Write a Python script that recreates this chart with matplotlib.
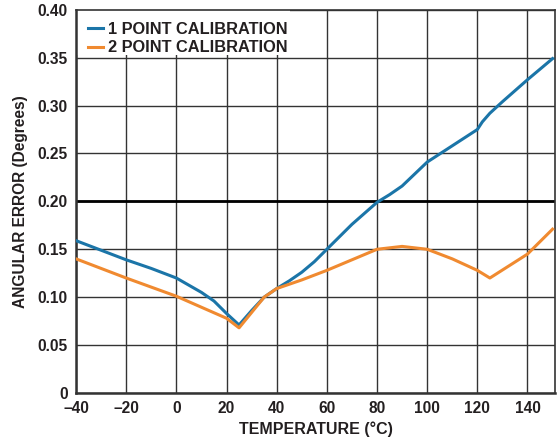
import matplotlib.pyplot as plt
from matplotlib.patches import Rectangle
import numpy as np

plt.rcParams['font.family'] = ['Liberation Sans', 'DejaVu Sans']
plt.rcParams['font.weight'] = 'bold'
plt.rcParams['axes.labelweight'] = 'bold'

# readings
temp_1pt = [-40, -30, -20, -10, 0, 10, 15, 20, 25, 30, 35, 40, 45, 50, 55, 60, 70, 80,
            85, 90, 100, 110, 120, 122, 125, 130, 140, 150]
err_1pt = [0.159, 0.149, 0.139, 0.130, 0.120, 0.105, 0.096, 0.083, 0.071, 0.086, 0.100,
           0.109, 0.117, 0.126, 0.137, 0.150, 0.176, 0.199, 0.207, 0.216, 0.241, 0.258,
           0.275, 0.283, 0.292, 0.304, 0.327, 0.349]

temp_2pt = [-40, -20, 0, 20, 25, 30, 35, 40, 50, 60, 70, 80, 90, 100, 110, 120, 125,
            140, 150]
err_2pt = [0.140, 0.120, 0.101, 0.078, 0.068, 0.084, 0.100, 0.109, 0.118, 0.128, 0.139,
           0.150, 0.153, 0.150, 0.140, 0.128, 0.120, 0.145, 0.171]

fig = plt.figure(figsize=(5.59, 4.37), dpi=100)
ax = fig.add_axes([0.136, 0.1007, 0.857, 0.877])

ax.plot(temp_1pt, err_1pt, color='#1b75a8', lw=2.2, label='1 POINT CALIBRATION', zorder=3)
ax.plot(temp_2pt, err_2pt, color='#f08a30', lw=2.2, label='2 POINT CALIBRATION', zorder=3)

ax.set_xlim(-40, 151)
ax.set_ylim(0, 0.40)
ax.set_xticks(np.arange(-40, 141, 20))
ax.set_yticks(np.arange(0, 0.401, 0.05))
ax.set_yticklabels(['0'] + ['%.2f' % v for v in np.arange(0.05, 0.401, 0.05)])
ax.set_xticklabels([('\u2013%d' % -v) if v < 0 else str(v) for v in range(-40, 141, 20)])
ax.tick_params(length=0, labelsize=11.2, pad=6, colors='#231f20')
ax.grid(True, color='#333333', lw=1)
ax.axhline(0.20, color='black', lw=2, zorder=2)
for s in ax.spines.values():
    s.set_color('#333333')
    s.set_linewidth(1.2)
ax.spines['left'].set_linewidth(1.8)
ax.spines['bottom'].set_linewidth(1.8)

ax.set_xlabel('TEMPERATURE (\u00b0C)', fontsize=11.5, labelpad=4, color='#231f20')
ax.set_ylabel('ANGULAR ERROR (Degrees)', fontsize=11.2, labelpad=7, color='#231f20')

# white patch behind the legend hides the grid above the 0.35 line
ax.add_patch(Rectangle((0, 0.882), 0.447, 0.118, transform=ax.transAxes,
                       facecolor='white', edgecolor='none', zorder=2))

leg = ax.legend(loc='upper left', bbox_to_anchor=(0.012, 0.985), frameon=False,
                fontsize=11.8, handlelength=0.9, handletextpad=0.3,
                borderaxespad=0.0, borderpad=0.4, labelspacing=0.2)
for t in leg.get_texts():
    t.set_color('#231f20')

fig.savefig('out.png', dpi=100)
